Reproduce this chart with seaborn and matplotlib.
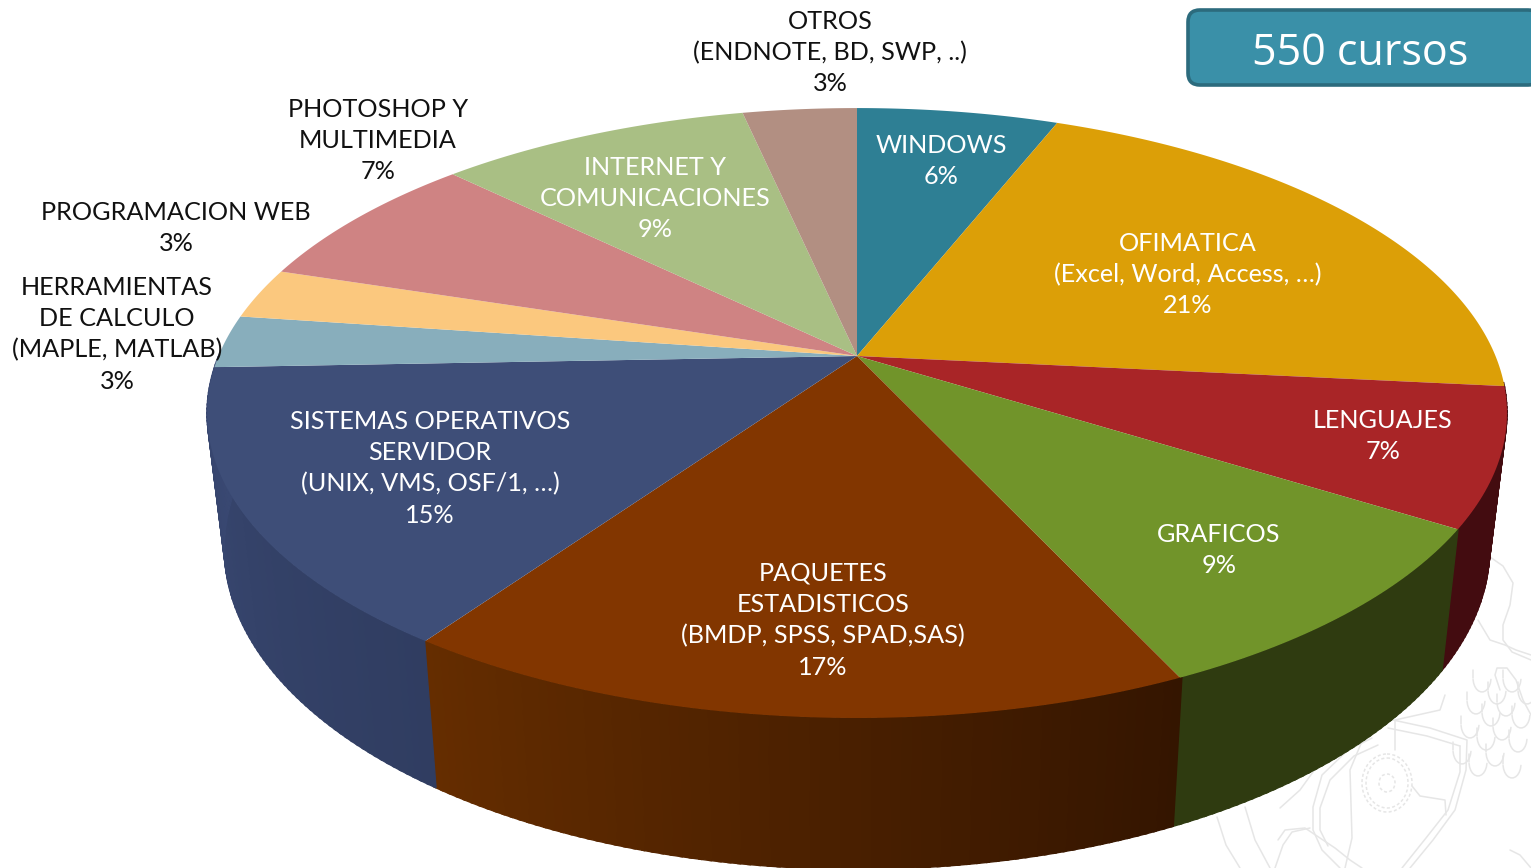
'''
3D pie of the 550 courses per subject
'''

import numpy as np
import matplotlib
matplotlib.use('Agg')
import matplotlib.pyplot as plt
from matplotlib.patches import Ellipse, FancyBboxPatch
from matplotlib.path import Path
from matplotlib.transforms import Affine2D, Transform
import seaborn as sns

# the data
labels = [
    ['WINDOWS', '6%'],
    ['OFIMATICA', '(Excel, Word, Access, …)', '21%'],
    ['LENGUAJES', '7%'],
    ['GRAFICOS', '9%'],
    ['PAQUETES', 'ESTADISTICOS', '(BMDP, SPSS, SPAD,SAS)', '17%'],
    ['SISTEMAS OPERATIVOS', 'SERVIDOR', '(UNIX, VMS, OSF/1, …)', '15%'],
    ['HERRAMIENTAS', 'DE CALCULO', '(MAPLE, MATLAB)', '3%'],
    ['PROGRAMACION WEB', '3%'],
    ['PHOTOSHOP Y', 'MULTIMEDIA', '7%'],
    ['INTERNET Y', 'COMUNICACIONES', '9%'],
    ['OTROS', '(ENDNOTE, BD, SWP, ..)', '3%'],
]
shares = [6.0, 20.6, 7.3, 9.2, 16.6, 14.7, 2.8, 2.7, 7.4, 9.3, 3.4]

top_colors = ['#2e7f94', '#dc9f07', '#a92527', '#71942a', '#823600', '#3e4e78',
              '#88aebc', '#fbc87e', '#cf8383', '#a9bf84', '#b28f82']

# side wall colours, left and right end of each slice
wall_left = {2: '#430c10', 3: '#2f3b10', 4: '#652d00', 5: '#394872'}
wall_right = {2: '#430c10', 3: '#2f3b10', 4: '#341500', 5: '#303d61'}

# where the labels go: centre x and first baseline, in pixels
label_xy = [(941, 153), (1188, 251), (1383, 428), (1219, 542), (823, 581), (430, 429),
            (117, 295), (176, 220), (378, 117), (655, 175), (830, 29)]
label_white = [True, True, True, True, True, True, False, False, False, True, False]

# outline pieces of the faint seal at the bottom right, in pixels
seal_lines = [
    ([1490, 1503, 1513, 1510, 1503, 1503, 1512, 1531], [557, 566, 583, 605, 625, 640, 652, 660]),
    ([1478, 1490, 1505, 1516, 1531], [620, 640, 645, 650, 655]),
    ([1500, 1495, 1497, 1507, 1516, 1523, 1531], [690, 675, 668, 668, 680, 700, 715]),
    ([1393, 1430, 1467, 1466, 1455, 1433, 1410], [720, 728, 740, 770, 810, 840, 868]),
    ([1388, 1427, 1460], [728, 736, 746]),
    ([1460, 1460, 1448, 1426, 1402], [746, 772, 810, 838, 868]),
    ([1372, 1348, 1322, 1313, 1313, 1322, 1340], [738, 750, 775, 807, 830, 850, 868]),
    ([1378, 1354, 1330, 1320, 1320, 1328], [745, 756, 780, 808, 830, 846]),
    ([1217, 1226, 1240], [817, 845, 868]),
    ([1245, 1255, 1270], [807, 840, 868]),
    ([1280, 1300, 1318, 1322], [808, 790, 765, 735]),
    ([1278, 1285, 1305, 1335, 1350, 1362], [840, 830, 828, 848, 860, 868]),
    ([1275, 1283, 1292, 1310], [868, 845, 832, 828]),
    ([1395, 1395, 1440, 1445], [750, 720, 710, 695]),
    ([1370, 1350, 1352, 1345], [722, 770, 838, 868]),
    ([1412, 1420, 1445, 1446], [786, 796, 800, 815]),
    ([1510, 1520, 1531], [850, 855, 868]),
]
seal_feathers = [(1482, 678), (1497, 690), (1512, 678), (1527, 690), (1476, 700), (1491, 712),
                 (1506, 702), (1521, 714), (1470, 724), (1486, 736), (1502, 726), (1518, 738),
                 (1462, 750), (1478, 762), (1495, 752), (1512, 764)]

W, H = 1531, 868
LINE = 31.2

sns.set_theme(style='white')
plt.rcParams['font.family'] = ['Lato', 'DejaVu Sans']


class Tilt(Transform):
    """Perspective view of the unit disc, result in pixels"""
    input_dims = output_dims = 2

    def __init__(self, cx, cy, a, b, k=-0.187):
        super().__init__()
        self.cx, self.cy, self.a, self.b, self.k = cx, cy, a, b, k

    def transform_non_affine(self, xy):
        xy = np.asarray(xy, dtype=float)
        front = -xy[:, 1]
        w = 1 + self.k * front
        return np.column_stack([self.cx + self.a * xy[:, 0] / w, self.cy + self.b * front / w])

    def transform_path_non_affine(self, path):
        # flatten the arcs first, then bend them
        big = path.transformed(Affine2D().scale(4000))
        poly = big.to_polygons(closed_only=False)[0] / 4000
        return Path(self.transform_non_affine(poly))


top_disc = Tilt(857, 356, 638.5, 294.3)
bottom_disc = Tilt(857, 488, 621.5, 310)

fig = plt.figure(figsize=(W / 100, H / 100), dpi=100)
ax = fig.add_axes([0, 0, 1, 1])

# faint seal behind the pie
seal = dict(color='#e6e6e6', lw=1.1, zorder=0)
for xs, ys in seal_lines:
    ax.plot(xs, ys, **seal)
for x, y in seal_feathers:
    t = np.linspace(0.1, np.pi - 0.1, 12)
    ax.plot(x + 9 * np.cos(t), y + 14 * np.sin(t), **seal)
    ax.plot([x - 9, x - 9], [y, y - 8], **seal)
for rx, ry in [(25, 29), (21, 25), (8, 9)]:
    ax.add_patch(Ellipse((1387, 783), 2 * rx, 2 * ry, fill=False, ec='#e6e6e6', lw=1.1, ls=(0, (2, 1.5)), zorder=0))

# the side wall, in thin strips from the top rim to the bottom rim
edges = np.concatenate([[0], np.cumsum(shares)]) / sum(shares) * 360
for ang0 in np.arange(95, 270, 0.75):
    ang1 = ang0 + 1.0
    mid = ang0 + 0.5
    i = min(max(np.searchsorted(edges, mid) - 1, 2), 5)
    frac = np.clip((mid - edges[i]) / (edges[i + 1] - edges[i]), 0, 1)
    # left of the picture is the late end of the slice
    col = (1 - frac) * np.array(matplotlib.colors.to_rgb(wall_right[i])) \
        + frac * np.array(matplotlib.colors.to_rgb(wall_left[i]))
    th = np.radians([ang0, ang1])
    pts = np.column_stack([np.sin(th), np.cos(th)])
    upper = top_disc.transform_non_affine(pts)
    lower = bottom_disc.transform_non_affine(pts)
    ax.fill(np.r_[upper[:, 0], lower[::-1, 0]], np.r_[upper[:, 1], lower[::-1, 1]],
            color=col, lw=1.0, zorder=1)

# the top of the pie
wedges, _ = ax.pie(shares, colors=sns.color_palette(top_colors), startangle=90, counterclock=False,
                   wedgeprops=dict(linewidth=0))
for w in wedges:
    w.set_transform(top_disc + ax.transData)
    w.set_zorder(2)
    w.set_clip_on(True)

ax.set_aspect('auto')
ax.set_xlim(0, W)
ax.set_ylim(H, 0)
ax.axis('off')

# labels
for lines, (x, y), white in zip(labels, label_xy, label_white):
    for n, line in enumerate(lines):
        ax.text(x, y + n * LINE, line, ha='center', va='baseline', fontsize=18.2,
                color='white' if white else '#111111', zorder=5)

# the box at the top right
ax.add_patch(FancyBboxPatch((1188, 10), 352, 75, boxstyle='round,pad=0,rounding_size=12',
                            facecolor='#3a90a8', edgecolor='#2c6b7d', lw=2.6, zorder=4))
ax.text(1360, 65, '550 cursos', ha='center', va='baseline', fontsize=31, color='white',
        family=['Open Sans', 'DejaVu Sans'], zorder=5)

fig.savefig('out.png', dpi=100, facecolor='white')
